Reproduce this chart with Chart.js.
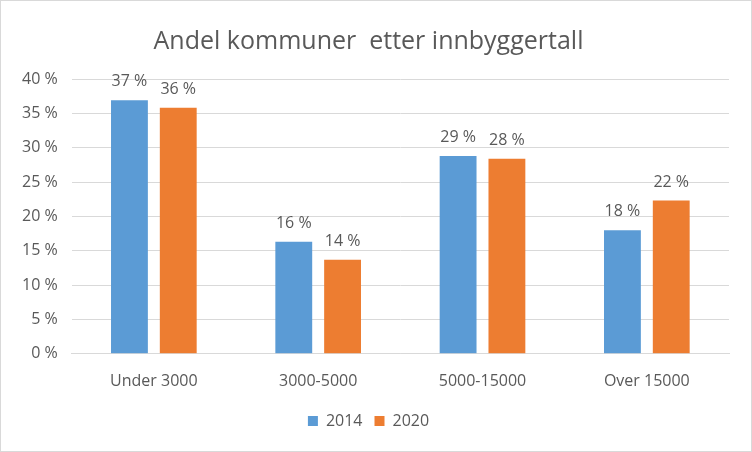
<!DOCTYPE html>
<html>
<head>
<meta charset="utf-8">
<script src="https://cdn.jsdelivr.net/npm/chart.js@4"></script>
<style>
  body{margin:0;background:#fff;}
  #wrap{width:750px;height:450px;border:1px solid #d9d9d9;}
</style>
</head>
<body>
<div id="wrap"><canvas id="myChart" width="750" height="450"></canvas></div>
<script>
// data
var categories = ["Under 3000", "3000-5000", "5000-15000", "Over 15000"];
var values2014 = [36.9, 16.3, 28.8, 18.0];
var values2020 = [35.8, 13.7, 28.4, 22.3];
var seriesNames = ["2014", "2020"];

var grey = "#595959";
var font = "'Open Sans', 'Liberation Sans', sans-serif";

//draws the value labels above each bar
var barLabels = {
  id: 'barLabels',
  afterDatasetsDraw: function(chart){
    var ctx = chart.ctx;
    ctx.save();
    ctx.fillStyle = grey;
    ctx.font = "16px " + font;
    ctx.textAlign = "center";
    ctx.textBaseline = "alphabetic";
    chart.data.datasets.forEach(function(ds, i){
      chart.getDatasetMeta(i).data.forEach(function(bar, j){
        ctx.fillText(Math.round(ds.data[j]) + " %", bar.x, bar.y - 14);
      });
    });
    ctx.restore();
  }
};

var ctx = document.getElementById('myChart').getContext('2d');
var myChart = new Chart(ctx, {
  type: 'bar',
  data: {
    labels: categories,
    datasets: [{
      label: seriesNames[0],
      data: values2014,
      backgroundColor: "#5B9BD5",
      categoryPercentage: 0.594,
      barPercentage: 0.755
    },{
      label: seriesNames[1],
      data: values2020,
      backgroundColor: "#ED7D31",
      categoryPercentage: 0.594,
      barPercentage: 0.755
    }]
  },
  options: {
    responsive: false,
    animation: false,
    layout: {padding: {left: 7, right: 22, top: 10, bottom: 12}},
    plugins: {
      title: {
        display: true,
        text: "Andel kommuner  etter innbyggertall",
        color: grey,
        font: {size: 25, family: font, weight: 'normal'},
        padding: {top: 16, bottom: 22}
      },
      legend: {
        position: 'bottom',
        labels: {
          color: grey,
          font: {size: 16, family: font},
          boxWidth: 10,
          boxHeight: 10,
          padding: 12
        }
      },
      tooltip: {enabled: false}
    },
    scales: {
      x: {
        grid: {display: false},
        border: {color: "#d9d9d9"},
        ticks: {color: grey, font: {size: 16, family: font}, padding: 10}
      },
      y: {
        min: 0,
        max: 40,
        ticks: {
          stepSize: 5,
          color: grey,
          font: {size: 16, family: font},
          padding: 14,
          callback: function(v){ return v + " %"; }
        },
        grid: {color: "#d9d9d9", drawTicks: false},
        border: {display: false}
      }
    }
  },
  plugins: [barLabels]
});
</script>
</body>
</html>
